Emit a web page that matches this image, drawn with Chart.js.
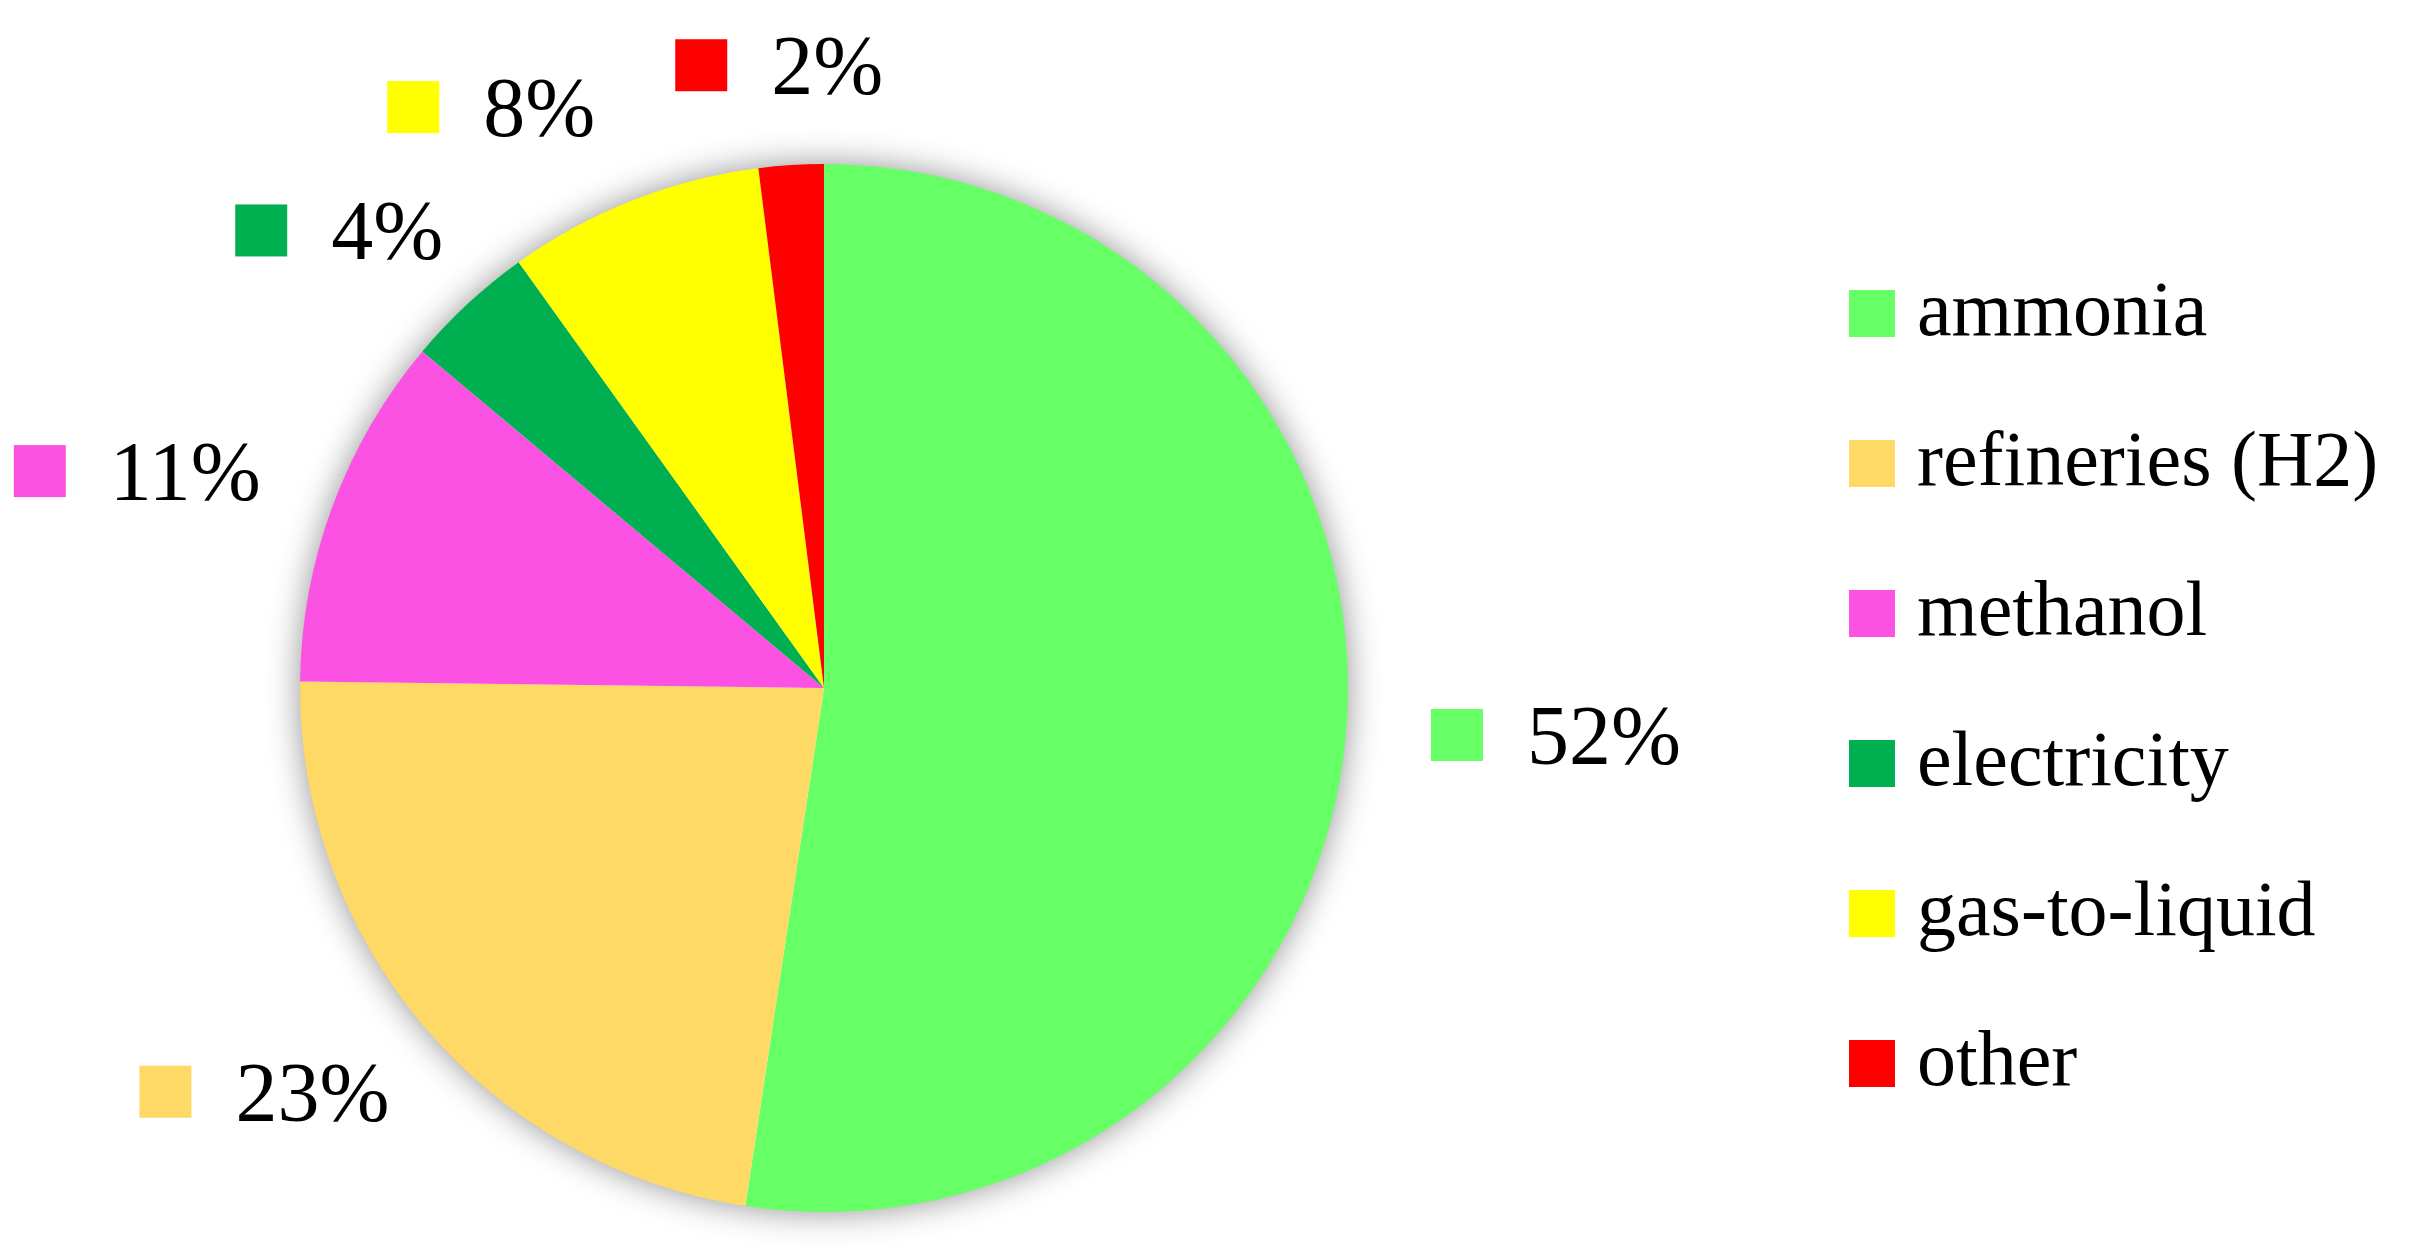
<!DOCTYPE html>
<html>
<head>
<meta charset="utf-8">
<script src="https://cdn.jsdelivr.net/npm/chart.js@4.4.1/dist/chart.umd.min.js"></script>
<style>
  html, body { margin: 0; padding: 0; background: #ffffff; }
  #wrap { width: 2419px; height: 1260px; }
</style>
</head>
<body>
<div id="wrap"><canvas id="h2UseChart" width="2419" height="1260"></canvas></div>
<script>
// Data
var categories = ['ammonia', 'refineries (H2)', 'methanol', 'electricity', 'gas-to-liquid', 'other'];
var shares = [52.4, 22.8, 10.9, 4.0, 7.9, 2.0];
var sliceColors = ['#66FF66', '#FFD966', '#FB52E3', '#00B050', '#FFFF00', '#FF0000'];

var serif = '"Liberation Serif", "DejaVu Serif", serif';

// soft grey glow round the pie
var pieShadow = {
  id: 'pieShadow',
  beforeDatasetsDraw: function (chart) {
    var arc = chart.getDatasetMeta(0).data[0];
    if (!arc) return;
    var ctx = chart.ctx;
    ctx.save();
    ctx.shadowColor = 'rgba(0, 0, 0, 0.45)';
    ctx.shadowBlur = 34;
    ctx.fillStyle = '#ffffff';
    ctx.beginPath();
    ctx.arc(arc.x, arc.y, arc.outerRadius - 1, 0, Math.PI * 2);
    ctx.fill();
    ctx.restore();
  }
};

// percentage labels outside each slice, with a colour key square
var outsideLabels = {
  id: 'outsideLabels',
  afterDatasetsDraw: function (chart) {
    var ctx = chart.ctx;
    var meta = chart.getDatasetMeta(0);
    var sq = 52, gap = 44, h = 30, offset = 85, minGap = 80;
    ctx.save();
    ctx.font = '84px ' + serif;
    ctx.textBaseline = 'alphabetic';
    ctx.textAlign = 'left';

    var boxes = meta.data.map(function (arc, i) {
      var mid = (arc.startAngle + arc.endAngle) / 2;
      var cos = Math.cos(mid), sin = Math.sin(mid);
      var text = Math.round(shares[i]) + '%';
      var w = sq + gap + ctx.measureText(text).width;
      var ax = arc.x + (arc.outerRadius + offset) * cos;
      var ay = arc.y + (arc.outerRadius + offset) * sin;
      var cx = ax + cos * w / 2;
      var cy = ay + sin * h / 2;
      return { text: text, left: cx - w / 2, w: w, cy: cy };
    });

    // push crowded neighbours apart (simple best-fit)
    for (var i = boxes.length - 2; i >= 0; i--) {
      var a = boxes[i], b = boxes[i + 1];
      if (Math.abs(a.cy - b.cy) < sq * 2 && a.left < b.left && a.left + a.w + minGap > b.left) {
        a.left = b.left - minGap - a.w;
      }
    }

    boxes.forEach(function (b, i) {
      ctx.fillStyle = sliceColors[i];
      ctx.fillRect(b.left, b.cy - sq / 2, sq, sq);
      ctx.fillStyle = '#000000';
      ctx.fillText(b.text, b.left + sq + gap, b.cy + 29);
    });
    ctx.restore();
  }
};

// legend on the right
var sideLegend = {
  id: 'sideLegend',
  afterDraw: function (chart) {
    var ctx = chart.ctx;
    var x = 1849, y0 = 313, step = 150;
    ctx.save();
    ctx.font = '78px ' + serif;
    ctx.textBaseline = 'alphabetic';
    ctx.textAlign = 'left';
    categories.forEach(function (name, i) {
      var y = y0 + i * step;
      ctx.fillStyle = sliceColors[i];
      ctx.fillRect(x, y - 23, 46, 47);
      ctx.fillStyle = '#000000';
      ctx.fillText(name, x + 68, y + 22);
    });
    ctx.restore();
  }
};

var ctx = document.getElementById('h2UseChart').getContext('2d');
var chart = new Chart(ctx, {
  type: 'pie',
  data: {
    labels: categories,
    datasets: [{
      data: shares,
      backgroundColor: sliceColors,
      borderWidth: 0,
      hoverOffset: 0
    }]
  },
  options: {
    responsive: false,
    animation: false,
    layout: {
      padding: { top: 164, left: 300, right: 1071, bottom: 48 }
    },
    plugins: {
      legend: { display: false },
      tooltip: { enabled: false }
    }
  },
  plugins: [pieShadow, outsideLabels, sideLegend]
});
</script>
</body>
</html>
